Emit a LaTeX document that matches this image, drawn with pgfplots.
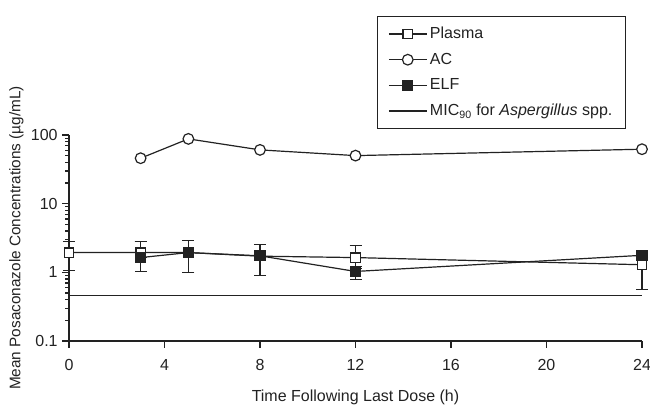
\documentclass[border=0pt]{standalone}
\usepackage{fontspec}
\setmainfont{Liberation Sans}
\usepackage{pgfplots}
\pgfplotsset{compat=1.18}
\definecolor{ink}{HTML}{222222}

\begin{document}
\begin{tikzpicture}[x=1pt,y=1pt]
% frame the page to the reference proportions (1 px = 0.75 pt)
\path[use as bounding box] (-51.75,-49.5) rectangle (435.75,255.75);
\begin{axis}[
    scale only axis,
    width=429.75pt, height=154.5pt,
    at={(0,0)}, anchor=south west,
    ymode=log,
    xmin=0, xmax=24, ymin=0.1, ymax=100,
    xtick={0,4,8,12,16,20,24},
    ytick={0.1,1,10,100},
    yticklabels={0.1,1,10,100},
    minor ytick={},
    axis x line=bottom, axis y line=left,
    axis line style={-, ink, line width=0.9pt},
    tick style={ink, line width=0.9pt},
    tick align=outside,
    major tick length=5pt,
    clip=false,
    font=\fontsize{12}{14}\selectfont,
    ticklabel style={font=\fontsize{12}{14}\selectfont, text=ink},
    xticklabel style={yshift=-5pt},
    /pgf/number format/assume math mode=true,
    xlabel={Time Following Last Dose (h)},
    ylabel={Mean Posaconazole Concentrations (µg/mL)},
    x label style={at={(axis description cs:0.5,-0.272)}, anchor=center, text=ink},
    y label style={at={(axis description cs:-0.092,0.5)}, anchor=center, text=ink,
        font=\fontsize{11.5}{13}\selectfont},
    legend cell align=left,
    legend style={at={(0.5375,1.578)}, anchor=north west, draw=ink, line width=0.8pt,
        font=\fontsize{12}{14}\selectfont, text=ink,
        inner xsep=8pt, inner ysep=6pt, row sep=5.3pt},
    legend image code/.code={%
        \draw[mark repeat=2,mark phase=2] plot coordinates {(0cm,0cm) (0.5cm,0cm) (1cm,0cm)};},
]
% Plasma
\addplot[ink, line width=0.9pt, mark=square*,
    mark options={fill=white, draw=ink, mark size=3.5pt, solid},
    error bars/.cd, y dir=both, y explicit,
    error bar style={line width=0.9pt, ink},
    error mark options={rotate=90, mark size=4.5pt, line width=0.9pt}]
    table[x=x, y=y, y error plus=ep, y error minus=em] {
x   y    ep    em
0   1.94 0.86  0.88
3   1.94 0.86  0.30
5   1.94 0     0
8   1.72 0     0
12  1.64 0.81  0.44
24  1.29 0.40  0.73
};
\addlegendentry{Plasma}
% AC
\addplot[ink, line width=0.9pt, mark=*,
    mark options={fill=white, draw=ink, mark size=4pt, solid}]
    coordinates {(3,45.9) (5,87.8) (8,60.7) (12,50.1) (24,62.1)};
\addlegendentry{AC}
% ELF
\addplot[ink, line width=0.9pt, mark=square*,
    mark options={fill=ink, draw=ink, mark size=3.7pt, solid},
    error bars/.cd, y dir=both, y explicit,
    error bar style={line width=0.9pt, ink},
    error mark options={rotate=90, mark size=4.5pt, line width=0.9pt}]
    table[x=x, y=y, y error plus=ep, y error minus=em] {
x   y    ep    em
3   1.64 1.16  0.61
5   1.94 0.96  0.94
8   1.74 0.83  0.84
12  1.03 0.10  0.25
24  1.77 0.10  0.10
};
\addlegendentry{ELF}
% MIC90
\addplot[ink, line width=0.9pt] coordinates {(0,0.466) (24,0.466)};
\addlegendentry{MIC\textsubscript{90} for \textit{Aspergillus} spp.}
\end{axis}
\end{tikzpicture}
\end{document}
